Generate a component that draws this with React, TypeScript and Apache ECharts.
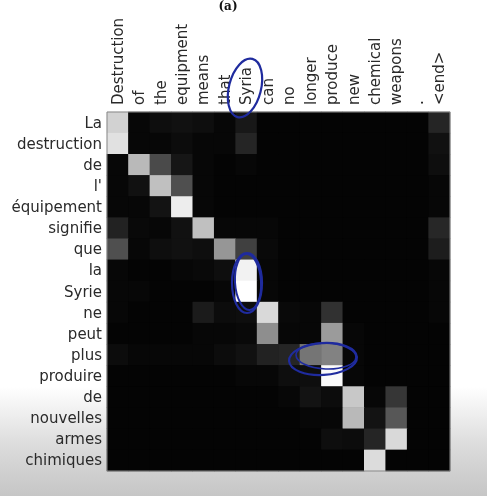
import { useEffect, useRef } from "react";
import * as echarts from "echarts";

// source words (columns, top axis)
const english = [
  "Destruction", "of", "the", "equipment", "means", "that", "Syria", "can",
  "no", "longer", "produce", "new", "chemical", "weapons", ".", "<end>",
];

// target words (rows, left axis)
const french = [
  "La", "destruction", "de", "l'", "équipement", "signifie", "que", "la",
  "Syrie", "ne", "peut", "plus", "produire", "de", "nouvelles", "armes", "chimiques",
];

// attention weights, one row per french word
const attention = [
  [0.82, 0.01, 0.04, 0.05, 0.04, 0.01, 0.08, 0, 0, 0, 0, 0, 0, 0, 0, 0.13],
  [0.88, 0.01, 0.01, 0.03, 0.01, 0.01, 0.13, 0, 0, 0, 0, 0, 0, 0, 0, 0.05],
  [0.01, 0.72, 0.28, 0.07, 0.01, 0, 0.01, 0, 0, 0, 0, 0, 0, 0, 0, 0.04],
  [0.01, 0.05, 0.75, 0.3, 0.01, 0, 0, 0, 0, 0, 0, 0, 0, 0, 0, 0.01],
  [0.01, 0.01, 0.06, 0.93, 0.01, 0, 0, 0, 0, 0, 0, 0, 0, 0, 0, 0.01],
  [0.12, 0.02, 0.01, 0.05, 0.75, 0.01, 0.01, 0.01, 0, 0, 0, 0, 0, 0, 0, 0.14],
  [0.3, 0.01, 0.04, 0.05, 0.04, 0.58, 0.24, 0.02, 0, 0, 0, 0, 0, 0, 0, 0.1],
  [0.01, 0, 0, 0.01, 0.02, 0.04, 0.95, 0.01, 0, 0, 0, 0, 0, 0, 0, 0.01],
  [0.01, 0.01, 0, 0, 0, 0.01, 1.0, 0.01, 0, 0, 0, 0, 0, 0, 0, 0.01],
  [0.01, 0, 0, 0, 0.09, 0.03, 0.04, 0.85, 0.02, 0.01, 0.18, 0, 0, 0, 0, 0.01],
  [0, 0, 0, 0, 0.01, 0.01, 0.02, 0.55, 0.01, 0.01, 0.6, 0.01, 0, 0, 0, 0],
  [0.03, 0.01, 0.01, 0.01, 0.01, 0.03, 0.05, 0.12, 0.13, 0.45, 0.5, 0.01, 0, 0, 0, 0],
  [0, 0, 0, 0, 0, 0, 0.01, 0.01, 0.04, 0.04, 0.98, 0.01, 0, 0, 0, 0],
  [0, 0, 0, 0, 0, 0, 0, 0, 0.01, 0.06, 0.03, 0.78, 0.01, 0.2, 0, 0],
  [0, 0, 0, 0, 0, 0, 0, 0, 0, 0.01, 0.01, 0.72, 0.06, 0.33, 0, 0],
  [0, 0, 0, 0, 0, 0, 0, 0, 0, 0, 0.04, 0.03, 0.13, 0.85, 0, 0],
  [0, 0, 0, 0, 0, 0, 0, 0, 0, 0, 0, 0, 0.86, 0, 0, 0],
];

const PEN = "#1f2b9e";

const App = () => {
  const chartRef = useRef<HTMLDivElement>(null);

  useEffect(() => {
    if (!chartRef.current) return;
    const chart = echarts.init(chartRef.current, null, { renderer: "svg" });

    const data: number[][] = [];
    attention.forEach((row, r) => {
      row.forEach((v, c) => data.push([c, r, v]));
    });

    const labelStyle = {
      color: "#2a2a2a",
      fontSize: 15,
      fontFamily: "DejaVu Sans",
      interval: 0,
    };
    const tick = {
      inside: true,
      length: 4,
      alignWithLabel: true,
      lineStyle: { color: "#222" },
    };

    const option: echarts.EChartsOption = {
      animation: false,
      backgroundColor: "transparent",
      grid: { left: 107, top: 112, width: 343, height: 359 },
      xAxis: {
        type: "category",
        position: "top",
        data: english,
        axisLine: { show: false },
        axisTick: tick,
        splitLine: { show: false },
        axisLabel: { ...labelStyle, rotate: -90, margin: 7 },
      },
      yAxis: {
        type: "category",
        inverse: true,
        data: french,
        axisLine: { show: false },
        axisTick: tick,
        splitLine: { show: false },
        axisLabel: { ...labelStyle, margin: 5 },
      },
      visualMap: {
        show: false,
        min: 0,
        max: 1,
        dimension: 2,
        inRange: { color: ["#040404", "#ffffff"] },
      },
      series: [
        {
          type: "heatmap",
          data,
          itemStyle: { borderWidth: 0 },
          emphasis: { disabled: true },
        },
      ],
      graphic: [
        {
          type: "rect",
          z: -10,
          shape: { x: 0, y: 0, width: 487, height: 496 },
          style: {
            fill: new echarts.graphic.LinearGradient(0, 0, 0, 1, [
              { offset: 0, color: "#ffffff" },
              { offset: 0.78, color: "#ffffff" },
              { offset: 0.83, color: "#f0f0f0" },
              { offset: 0.89, color: "#dedede" },
              { offset: 0.95, color: "#d0d0d0" },
              { offset: 1, color: "#c6c6c6" },
            ]),
          },
        },
        {
          // black backing so no seams show between cells
          type: "rect",
          z: -9,
          shape: { x: 107, y: 112, width: 343, height: 359 },
          style: { fill: "#040404" },
        },
        {
          type: "rect",
          z: 100,
          shape: { x: 107, y: 112, width: 343, height: 359 },
          style: { fill: "none", stroke: "#888", lineWidth: 1 },
        },
        {
          type: "text",
          z: 100,
          style: {
            text: "(a)",
            x: 228,
            y: 0,
            font: "bold 12px 'DejaVu Serif'",
            fill: "#111",
            textAlign: "center",
            textVerticalAlign: "top",
          },
        },
        // hand-drawn annotations
        {
          type: "ellipse",
          z: 110,
          x: 245,
          y: 88,
          rotation: -0.25,
          shape: { cx: 0, cy: 0, rx: 16, ry: 30 },
          style: { fill: "none", stroke: PEN, lineWidth: 2.2 },
        },
        {
          type: "ellipse",
          z: 110,
          x: 247,
          y: 283,
          shape: { cx: 0, cy: 0, rx: 15, ry: 30 },
          style: { fill: "none", stroke: PEN, lineWidth: 2.2 },
        },
        {
          type: "ellipse",
          z: 110,
          x: 248,
          y: 282,
          rotation: 0.06,
          shape: { cx: 0, cy: 0, rx: 13, ry: 28 },
          style: { fill: "none", stroke: PEN, lineWidth: 2 },
        },
        {
          type: "ellipse",
          z: 110,
          x: 323,
          y: 359,
          rotation: 0.06,
          shape: { cx: 0, cy: 0, rx: 34, ry: 16 },
          style: { fill: "none", stroke: PEN, lineWidth: 2.2 },
        },
        {
          type: "ellipse",
          z: 110,
          x: 326,
          y: 356,
          rotation: -0.04,
          shape: { cx: 0, cy: 0, rx: 30, ry: 13 },
          style: { fill: "none", stroke: PEN, lineWidth: 1.6 },
        },
      ],
    };

    chart.setOption(option);

    return () => {
      chart.dispose();
    };
  }, []);

  return (
    <div
      ref={chartRef}
      style={{ position: "fixed", left: 0, top: 0, width: 487, height: 496 }}
    />
  );
};

export default App;
